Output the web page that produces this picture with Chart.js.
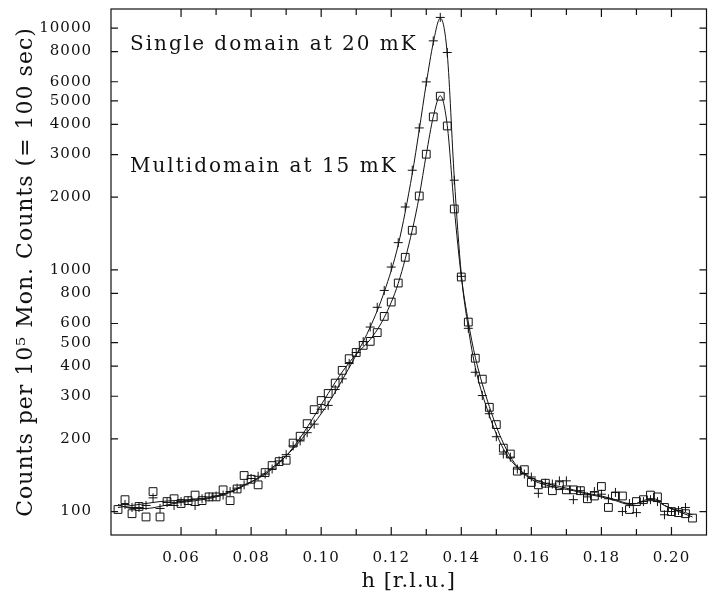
<!DOCTYPE html>
<html>
<head>
<meta charset="utf-8">
<script src="https://cdn.jsdelivr.net/npm/chart.js@4.4.1/dist/chart.umd.min.js"></script>
<style>
  html, body { margin: 0; padding: 0; background: #fff; overflow: hidden; }
  #wrap { width: 713px; height: 592px; }
</style>
</head>
<body>
<div id="wrap"><canvas id="chart" width="713" height="592"></canvas></div>
<script>
// Measured points, h in r.l.u.
const hValues = [
  0.042, 0.044, 0.046, 0.048, 0.050, 0.052, 0.054, 0.056, 0.058, 0.060,
  0.062, 0.064, 0.066, 0.068, 0.070, 0.072, 0.074, 0.076, 0.078, 0.080,
  0.082, 0.084, 0.086, 0.088, 0.090, 0.092, 0.094, 0.096, 0.098, 0.100,
  0.102, 0.104, 0.106, 0.108, 0.110, 0.112, 0.114, 0.116, 0.118, 0.120,
  0.122, 0.124, 0.126, 0.128, 0.130, 0.132, 0.134, 0.136, 0.138, 0.140,
  0.142, 0.144, 0.146, 0.148, 0.150, 0.152, 0.154, 0.156, 0.158, 0.160,
  0.162, 0.164, 0.166, 0.168, 0.170, 0.172, 0.174, 0.176, 0.178, 0.180,
  0.182, 0.184, 0.186, 0.188, 0.190, 0.192, 0.194, 0.196, 0.198, 0.200,
  0.202, 0.204, 0.206
];

// single domain at 20 mK (+)
const singleCounts = [
  null, 107, 104, 104, 106, 114, 103, 109, 106, 110,
  111, 106, 113, 115, 116, 117, 121, 125, 129, 137,
  140, 143, 150, 162, 172, 187, 196, 212, 230, 265,
  275, 320, 354, 410, 455, 505, 580, 700, 822, 1027,
  1296, 1820, 2583, 3865, 5993, 8859, 11075, 7930, 2349, 940,
  573, 377, 302, 254, 204, 173, 168, 150, 143, 139,
  119, 131, 130, 134, 134, 112, 122, 115, 121, 118,
  113, 120, 100, 108, 99, 110, 112, 110, 97, 100,
  101, 104, null
];

// multidomain at 15 mK (squares)
const multiCounts = [
  102, 112, 98, 105, 95, 121, 95, 110, 113, 108,
  111, 117, 111, 115, 115, 123, 111, 124, 141, 136,
  129, 145, 155, 161, 163, 192, 205, 231, 264, 288,
  308, 340, 384, 429, 455, 487, 506, 550, 642, 736,
  882, 1127, 1458, 2021, 3009, 4294, 5230, 3938, 1786, 934,
  608, 431, 353, 270, 229, 183, 173, 147, 149, 132,
  129, 131, 122, 128, 123, 123, 122, 113, 116, 127,
  104, 116, 116, 102, 110, 112, 117, 115, 104, 100,
  99, 98, 94
];

// fitted curves
const fitH = [
  0.042, 0.046, 0.050, 0.054, 0.058, 0.062, 0.066, 0.070, 0.074, 0.078,
  0.082, 0.086, 0.090, 0.094, 0.098, 0.102, 0.106, 0.110, 0.114, 0.118,
  0.122, 0.126, 0.128, 0.130, 0.132, 0.134, 0.136, 0.138, 0.140, 0.142,
  0.144, 0.148, 0.152, 0.156, 0.160, 0.164, 0.168, 0.172, 0.176, 0.180,
  0.184, 0.188, 0.190, 0.192, 0.194, 0.196, 0.198, 0.202, 0.206
];
const singleFit = [
  107, 103, 103, 105, 108, 110, 112, 115, 120, 128,
  138, 152, 170, 196, 232, 280, 350, 445, 580, 810,
  1270, 2500, 3800, 5900, 8700, 11000, 7800, 2400, 960, 575,
  395, 250, 182, 152, 138, 131, 127, 123, 119, 116,
  112, 108, 108, 110, 111, 110, 106, 101, 97
];
const multiFit = [
  104, 106, 108, 110, 111, 112, 113, 116, 121, 129,
  137, 150, 170, 202, 248, 308, 378, 448, 515, 635,
  880, 1460, 2020, 3000, 4300, 5250, 3950, 1800, 940, 610,
  435, 272, 192, 153, 136, 129, 125, 122, 118, 115,
  111, 107, 108, 111, 113, 112, 106, 100, 95
];

const xTicks = [0.06, 0.07, 0.08, 0.09, 0.10, 0.11, 0.12, 0.13, 0.14, 0.15, 0.16, 0.17, 0.18, 0.19, 0.20];
const xTickLabels = ['0.06', '', '0.08', '', '0.10', '', '0.12', '', '0.14', '', '0.16', '', '0.18', '', '0.20'];
const yTicks = [100, 200, 300, 400, 500, 600, 800, 1000, 2000, 3000, 4000, 5000, 6000, 8000, 10000];

const notes = ['Single domain at 20 mK', 'Multidomain at 15 mK'];

const toPoints = (xs, ys) => xs.map((x, i) => ({ x: x, y: ys[i] })).filter(p => p.y !== null);

Chart.defaults.font.family = '"DejaVu Serif", serif';
Chart.defaults.color = '#111';

const ink = '#111';

// frame + inward ticks on all four sides, labels text
const frameTicks = {
  id: 'frameTicks',
  beforeDraw(chart) {
    chart.ctx.letterSpacing = '1px';
  },
  afterDraw(chart) {
    const { ctx, chartArea: a, scales } = chart;
    ctx.save();
    ctx.strokeStyle = ink;
    ctx.lineWidth = 1.2;
    ctx.strokeRect(a.left, a.top, a.right - a.left, a.bottom - a.top);
    ctx.beginPath();
    scales.x.ticks.forEach((t, i) => {
      const px = scales.x.getPixelForValue(t.value);
      const len = xTickLabels[i] ? 8 : 6;
      ctx.moveTo(px, a.bottom); ctx.lineTo(px, a.bottom - len);
      ctx.moveTo(px, a.top); ctx.lineTo(px, a.top + len);
    });
    scales.y.ticks.forEach(t => {
      const py = scales.y.getPixelForValue(t.value);
      ctx.moveTo(a.left, py); ctx.lineTo(a.left + 7, py);
      ctx.moveTo(a.right, py); ctx.lineTo(a.right - 7, py);
    });
    ctx.stroke();

    ctx.fillStyle = ink;
    ctx.font = '20px "DejaVu Serif"';
    ctx.letterSpacing = '2px';
    ctx.textAlign = 'left';
    ctx.textBaseline = 'alphabetic';
    ctx.fillText(notes[0], a.left + 19, 50);
    ctx.fillText(notes[1], a.left + 19, 171.5);
    ctx.restore();
  }
};

new Chart(document.getElementById('chart'), {
  type: 'scatter',
  data: {
    datasets: [
      {
        label: 'single fit',
        data: toPoints(fitH, singleFit),
        showLine: true,
        borderColor: ink,
        borderWidth: 1,
        pointRadius: 0,
        cubicInterpolationMode: 'monotone'
      },
      {
        label: 'multi fit',
        data: toPoints(fitH, multiFit),
        showLine: true,
        borderColor: ink,
        borderWidth: 1,
        pointRadius: 0,
        cubicInterpolationMode: 'monotone'
      },
      {
        label: notes[0],
        data: toPoints(hValues, singleCounts),
        pointStyle: 'cross',
        pointRadius: 4.5,
        borderColor: ink,
        borderWidth: 1,
        backgroundColor: 'rgba(0,0,0,0)'
      },
      {
        label: notes[1],
        data: toPoints(hValues, multiCounts),
        pointStyle: 'rect',
        pointRadius: 5.5,
        borderColor: ink,
        borderWidth: 1,
        backgroundColor: 'rgba(0,0,0,0)'
      }
    ]
  },
  options: {
    responsive: false,
    animation: false,
    layout: { padding: { top: 9, left: 0, right: 0, bottom: 0 } },
    plugins: {
      legend: { display: false },
      tooltip: { enabled: false }
    },
    scales: {
      x: {
        type: 'linear',
        min: 0.04,
        max: 0.21,
        grid: { display: false, drawTicks: false },
        border: { display: false },
        afterBuildTicks: s => { s.ticks = xTicks.map(v => ({ value: v })); },
        afterFit: s => { s.height = 57; s.paddingLeft = 0; s.paddingRight = 0; },
        ticks: {
          autoSkip: false,
          maxRotation: 0,
          padding: 14,
          font: { size: 15 },
          callback: (v, i) => xTickLabels[i]
        },
        title: {
          display: true,
          text: 'h [r.l.u.]',
          font: { size: 21, lineHeight: 1 },
          padding: { top: 0, bottom: 0 }
        }
      },
      y: {
        type: 'logarithmic',
        min: 80,
        max: 12000,
        grid: { display: false, drawTicks: false },
        border: { display: false },
        afterBuildTicks: s => { s.ticks = yTicks.map(v => ({ value: v })); },
        afterFit: s => { s.width = 111; s.paddingTop = 0; s.paddingBottom = 0; },
        ticks: {
          autoSkip: false,
          padding: 19,
          font: { size: 15 },
          callback: v => String(v)
        },
        title: {
          display: true,
          text: 'Counts per 10\u2075 Mon. Counts (= 100 sec)',
          font: { size: 22 },
          padding: { top: 13, bottom: 0 }
        }
      }
    }
  },
  plugins: [frameTicks]
});
</script>
</body>
</html>
